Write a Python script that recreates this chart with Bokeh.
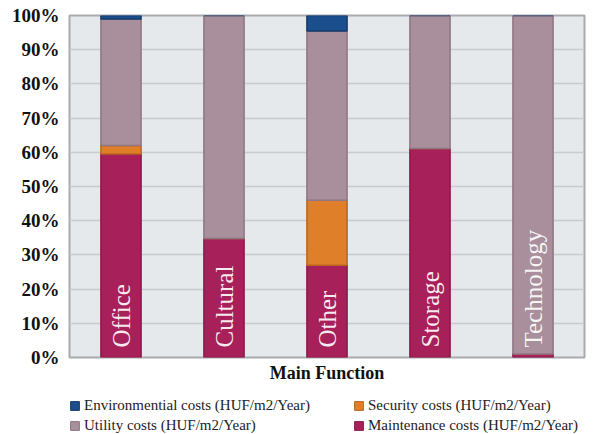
import math
from bokeh.plotting import figure
from bokeh.layouts import column
from bokeh.models import FactorRange, Range1d, Legend, LegendItem, ColumnDataSource, FixedTicker, CustomJSTickFormatter
from bokeh.core.properties import value
from bokeh.embed import file_html
from bokeh.resources import INLINE

categories = ["Office", "Cultural", "Other", "Storage", "Technology"]
maintenance = [59.5, 34.8, 27.0, 61.1, 1.0]
security = [2.5, 0.0, 19.0, 0.0, 0.0]
utility = [37.0, 65.2, 49.5, 38.9, 99.0]
environmental = [1.0, 0.0, 4.5, 0.0, 0.0]
y_ticks = [0, 10, 20, 30, 40, 50, 60, 70, 80, 90, 100]

series = ["maintenance", "security", "utility", "environmental"]
labels = {
    "environmental": "Environmential costs (HUF/m2/Year)",
    "security": "Security costs (HUF/m2/Year)",
    "utility": "Utility costs (HUF/m2/Year)",
    "maintenance": "Maintenance costs (HUF/m2/Year)",
}
fills = {"maintenance": "#a8205a", "security": "#e07f2a", "utility": "#a88f9b", "environmental": "#1b4e8c"}
lines = {"maintenance": "#8a1a4a", "security": "#b8661f", "utility": "#8e7682", "environmental": "#143c6c"}

source = ColumnDataSource(dict(cat=categories, maintenance=maintenance, security=security,
                               utility=utility, environmental=environmental,
                               base=[0] * len(categories)))

FONT = "Liberation Serif"

# ---- main chart ----
p = figure(width=596, height=390, x_range=FactorRange(factors=categories),
           y_range=Range1d(0, 100), output_backend="svg", toolbar_location=None,
           min_border_left=69, min_border_right=12, min_border_top=15, min_border_bottom=33)
p.background_fill_color = "#e5e9ec"
p.border_fill_color = "white"
p.outline_line_color = "#a9abad"
p.outline_line_width = 2

p.vbar_stack(series, x="cat", width=0.39, source=source,
             fill_color=[fills[s] for s in series],
             line_color=[lines[s] for s in series], line_width=1.5)

p.text(x="cat", y="base", text="cat", source=source, angle=math.pi / 2,
       text_align="left", text_baseline="middle", y_offset=-10,
       text_font=value(FONT), text_font_size="25px", text_color="white", text_alpha=0.92)

p.xgrid.grid_line_color = None
p.ygrid.grid_line_color = "#c8ccd0"
p.ygrid.grid_line_width = 1.5
p.ygrid.ticker = FixedTicker(ticks=y_ticks)

p.yaxis.ticker = FixedTicker(ticks=y_ticks)
p.yaxis.formatter = CustomJSTickFormatter(code="return tick + '%';")
p.yaxis.axis_line_color = None
p.yaxis.major_tick_line_color = None
p.yaxis.minor_tick_line_color = None
p.yaxis.major_tick_out = 0
p.yaxis.major_label_text_font = FONT
p.yaxis.major_label_text_font_style = "bold"
p.yaxis.major_label_text_font_size = "19px"
p.yaxis.major_label_text_color = "#111111"
p.yaxis.major_label_standoff = 10

p.xaxis.axis_line_color = None
p.xaxis.major_tick_line_color = None
p.xaxis.minor_tick_line_color = None
p.xaxis.major_tick_out = 0
p.xaxis.major_label_text_font_size = "0px"
p.xaxis.major_label_standoff = 0
p.xaxis.axis_label = "Main Function"
p.xaxis.axis_label_text_font = FONT
p.xaxis.axis_label_text_font_style = "bold"
p.xaxis.axis_label_text_font_size = "18px"
p.xaxis.axis_label_text_color = "#111111"
p.xaxis.axis_label_standoff = 5

# ---- legend strip (bars kept out of view, only the legend shows) ----
lf = figure(width=596, height=44, x_range=FactorRange(factors=categories),
            y_range=Range1d(200, 300), output_backend="svg", toolbar_location=None,
            min_border_left=69, min_border_right=0, min_border_top=0, min_border_bottom=0,
            x_axis_location=None, y_axis_location=None)
lf.outline_line_color = None
lf.grid.grid_line_color = None
lf.background_fill_color = "white"
lrs = lf.vbar_stack(series, x="cat", width=0.39, source=source,
                    fill_color=[fills[s] for s in series],
                    line_color=[lines[s] for s in series], line_width=1)
lmap = dict(zip(series, lrs))

order = ["environmental", "utility", "security", "maintenance"]
legend = Legend(items=[LegendItem(label=labels[s], renderers=[lmap[s]]) for s in order],
                ncols=2, location=(0, 0))
legend.label_text_font = FONT
legend.label_text_font_size = "15px"
legend.label_text_color = "#222222"
legend.glyph_width = 11
legend.glyph_height = 11
legend.label_height = 17
legend.label_width = 266
legend.label_standoff = 4
legend.spacing = 3
legend.padding = 0
legend.margin = 0
legend.border_line_color = None
legend.background_fill_alpha = 0
lf.add_layout(legend)

layout = column(p, lf, spacing=0)
open("out.html", "w").write(file_html(layout, INLINE))
